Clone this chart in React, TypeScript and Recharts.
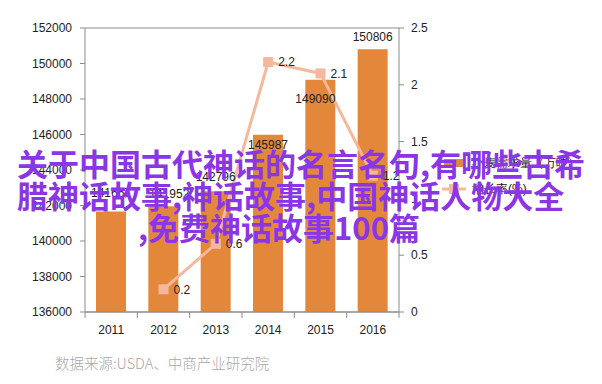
import React from "react";
import { Bar, ComposedChart, LabelList, Line, XAxis, YAxis, CartesianGrid } from "recharts";

const years = ["2011", "2012", "2013", "2014", "2015", "2016"];
const output = [141667, 141952, 142796, 145987, 149090, 150806];
const growth: (number | null)[] = [null, 0.2, 0.6, 2.2, 2.1, 1.2];
const leftTicks = [136000, 138000, 140000, 142000, 144000, 146000, 148000, 150000, 152000];
const rightTicks = [0, 0.5, 1, 1.5, 2, 2.5];

const barName = "小麦需求量（万吨）";
const lineName = "增长率(%)";
const source = "数据来源:USDA、中商产业研究院";
const overlay = ["关于中国古代神话的名言名句,有哪些古希", "腊神话故事,神话故事,中国神话人物大全", ",免费神话故事100篇"];

// hand-placed bar label nudges (as in the original spreadsheet chart)
const barLabelDx = [0, 6, 0, 0, -5, 0];
const barLabelDy = [-7, -1, -3, 21, 30, -1];

const data = years.map((year, i) => ({ year, output: output[i], growth: growth[i] }));

const barColor = "#E3883B";
const lineColor = "#F5B89A";
const gridColor = "#8c8c8c";
const font = "'Liberation Sans', Arial, sans-serif";

const SquareDot = (props: any) => {
  const { cx, cy, value } = props;
  if (value == null || cx == null || cy == null) return null;
  return <rect x={cx - 5} y={cy - 5} width={10} height={10} fill={lineColor} />;
};

const BarLabel = (props: any) => {
  const { x, y, width, value, index } = props;
  return (
    <text
      x={x + width / 2 + barLabelDx[index]}
      y={y - 7 + barLabelDy[index]}
      textAnchor="middle"
      fontSize={12}
      fill="#222"
      fontFamily={font}
    >
      {value}
    </text>
  );
};

const YearTick = (props: any) => {
  const { x, y, payload, index, visibleTicksCount } = props;
  const band = 314 / years.length;
  return (
    <g>
      <line x1={x - band / 2} x2={x - band / 2} y1={y - 8} y2={y - 2} stroke={gridColor} />
      {index === visibleTicksCount - 1 && (
        <line x1={x + band / 2} x2={x + band / 2} y1={y - 8} y2={y - 2} stroke={gridColor} />
      )}
      <text x={x} y={y + 14} textAnchor="middle" fontSize={12} fill="#222" fontFamily={font}>
        {payload.value}
      </text>
    </g>
  );
};

const LegendBox = () => (
  <div style={{ position: "absolute", left: 442, top: 150, fontFamily: font, fontSize: 12, color: "#111" }}>
    <div style={{ display: "flex", alignItems: "center", height: 26 }}>
      <svg width={24} height={10} style={{ marginRight: 6 }}>
        <rect x={2} y={1} width={20} height={8} fill={barColor} />
      </svg>
      {barName}
    </div>
    <div style={{ display: "flex", alignItems: "center", height: 26 }}>
      <svg width={24} height={12} style={{ marginRight: 6 }}>
        <line x1={0} x2={24} y1={6} y2={6} stroke={lineColor} strokeWidth={3} />
        <rect x={7} y={1} width={10} height={10} fill={lineColor} />
      </svg>
      {lineName}
    </div>
  </div>
);

export default function App() {
  return (
    <div style={{ position: "absolute", left: 0, top: 0, width: 602, height: 384, background: "#fff", overflow: "hidden" }}>
      <ComposedChart
        width={602}
        height={384}
        data={data}
        margin={{ top: 28, right: 163, bottom: 40, left: 25 }}
        barCategoryGap={0}
      >
        <CartesianGrid stroke={gridColor} vertical={false} />
        <XAxis
          dataKey="year"
          height={32}
          axisLine={{ stroke: gridColor }}
          tickLine={false}
          tick={<YearTick />}
          interval={0}
        />
        <YAxis
          yAxisId="left"
          width={60}
          domain={[136000, 152000]}
          ticks={leftTicks}
          interval={0}
          tickSize={5}
          tickMargin={8}
          axisLine={{ stroke: gridColor }}
          tickLine={{ stroke: gridColor }}
          tick={{ fontSize: 12, fill: "#222", fontFamily: font }}
        />
        <YAxis
          yAxisId="right"
          orientation="right"
          width={40}
          domain={[0, 2.5]}
          ticks={rightTicks}
          interval={0}
          tickSize={5}
          tickMargin={7}
          axisLine={{ stroke: gridColor }}
          tickLine={{ stroke: gridColor }}
          tick={{ fontSize: 12, fill: "#222", fontFamily: font }}
        />
        <Bar yAxisId="left" dataKey="output" name={barName} fill={barColor} barSize={30} isAnimationActive={false}>
          <LabelList dataKey="output" content={<BarLabel />} />
        </Bar>
        <Line
          yAxisId="right"
          dataKey="growth"
          name={lineName}
          stroke={lineColor}
          strokeWidth={3}
          dot={<SquareDot />}
          activeDot={false}
          isAnimationActive={false}
        >
          <LabelList dataKey="growth" position="right" offset={10} fontSize={12} fill="#222" fontFamily={font} />
        </Line>
      </ComposedChart>
      <LegendBox />
      <div
        style={{
          position: "absolute",
          left: 55,
          top: 352,
          fontSize: 14.5,
          color: "#a8a8a8",
          fontFamily: "'Noto Sans CJK SC', sans-serif",
          fontWeight: 300,
          whiteSpace: "nowrap",
        }}
      >
        {source}
      </div>
      {overlay.map((line, i) => (
        <div
          key={i}
          style={{
            position: "absolute",
            left: [17, 17, 138][i],
            top: 147 + i * 32,
            fontSize: 31,
            lineHeight: "32px",
            fontWeight: 700,
            color: "#8B36E6",
            fontFamily: "'Noto Sans CJK SC', sans-serif",
            whiteSpace: "nowrap",
          }}
        >
          {line}
        </div>
      ))}
    </div>
  );
}
